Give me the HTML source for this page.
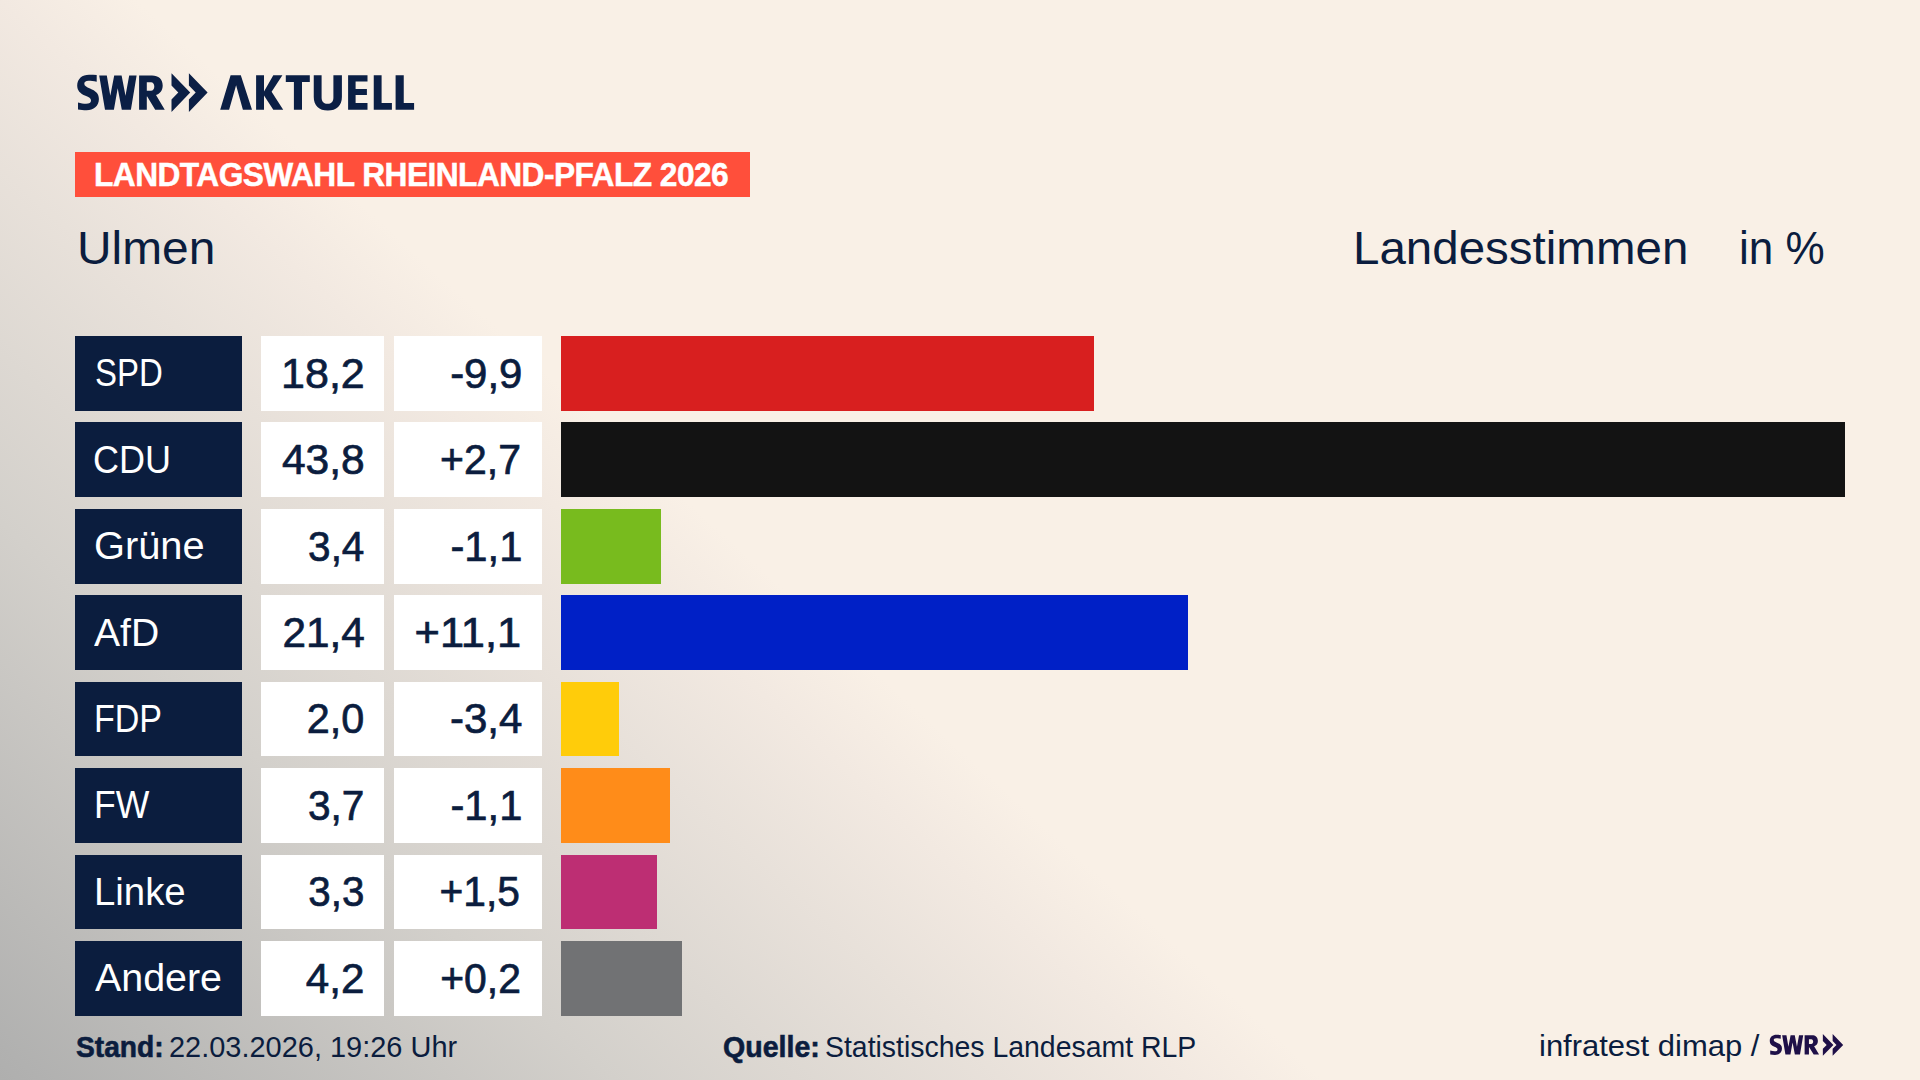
<!DOCTYPE html>
<html><head><meta charset="utf-8"><style>
*{margin:0;padding:0;box-sizing:border-box}
html,body{width:1920px;height:1080px;overflow:hidden}
body{position:relative;font-family:"Liberation Sans",sans-serif;color:#0b1d3e;background:#f9f0e6}
.bg{position:absolute;left:0;top:0;width:1920px;height:1080px}
.a{position:absolute;white-space:nowrap;line-height:1}
.box{position:absolute}
.t{position:absolute;white-space:nowrap;line-height:1;transform-origin:0 0}
.tr{position:absolute;white-space:nowrap;line-height:1;transform-origin:100% 0;text-align:right}
</style></head><body>
<div class="bg" id="bg" style="background:linear-gradient(222.3deg,#f9f0e6 0px,#f9f0e6 1200px,#f2e9e1 1292px,#d3d0cb 1678px,#b1b1b0 2063px,#afafae 2091px)"></div>
<svg style="position:absolute;left:0;top:0" width="1920" height="1080" viewBox="0 0 1920 1080">
<defs>
<g id="swr">
<path d="M96.7 75L96.7 81.7C93.5 81 91 80.7 88.5 80.7C85.5 80.7 84.3 82 84.3 83.8C84.3 86 86.5 87 90 88.5C95.5 90.8 98.9 93.5 98.9 99C98.9 106 93.5 110.3 86.5 110.3C83.5 110.3 80.5 109.9 78 109.5L78 102.5C80.8 103.3 83.5 103.8 86 103.8C89.3 103.8 91 102.7 91 100.5C91 98.3 89 97.3 85.5 95.8C80 93.5 77.2 90.5 77.2 85.5C77.2 78.7 82.3 74.7 89 74.7C91.8 74.7 94.5 74.9 96.7 75Z"/>
<path d="M99.2 75.4L106.8 75.4L110.3 95.7L114.2 75.4L121.6 75.4L125.5 95.7L129.2 75.4L136.6 75.4L130.9 109.8L121.8 109.8L117.7 88.3L113.9 109.8L105 109.8Z"/>
<path fill-rule="evenodd" d="M139.1 75.4H152C158.5 75.4 162.7 79 162.7 85.5C162.7 90.5 159.8 93.8 156 95L164.75 109.8H155.2L147.2 96.5H146.8V109.8H139.1ZM146.8 82.3V90.8H151C153 90.8 154.3 89 154.3 86.5C154.3 84 153 82.3 151 82.3Z"/>
<path d="M171.5 73.2L190.2 92.6L171.5 111.9L171.5 99.5L178.3 92.6L171.5 85.6Z"/>
<path d="M188.9 73.2L207.6 92.6L188.9 111.9L188.9 99.5L195.7 92.6L188.9 85.6Z"/>
</g>
</defs>
<g fill="#0b1f45">
<use href="#swr"/>
<path d="M220.2 109.8L230.6 75.2L240.8 75.2L252 109.8L242.9 109.8L236.1 85.3L229.1 109.8Z"/>
<path d="M256.1 75.2H264V91.5L273.3 75.2H282.4L271.6 91.8L283.2 109.8H273.3L264 95.5V109.8H256.1Z"/>
<path d="M285.8 75.2H309.8V81.9H302V109.8H293.9V81.9H285.8Z"/>
<path d="M313.75 75.2H321.6V97.5C321.6 101.5 323.7 103.8 327.6 103.8C331.4 103.8 333.4 101.5 333.4 97.5V75.2H341.9V97C341.9 105.5 336.5 110.6 327.8 110.6C319.1 110.6 313.75 105.5 313.75 97Z"/>
<path d="M348.1 75.2H367.5V81.6H355.6V89H366.9V95H355.6V103.1H367.5V109.8H348.1Z"/>
<path d="M373.75 75.2H381.6V103.1H391.9V109.8H373.75Z"/>
<path d="M395.6 75.2H403.75V103.1H414.1V109.8H395.6Z"/>
</g>
<use href="#swr" fill="#1f1048" transform="translate(1726.3 992.8) scale(0.563)"/>
</svg>

<div class="box" style="left:75px;top:152.3px;width:675px;height:44.6px;background:#ff4f3b"></div>
<div class="t" id="label" style="font-size:34.00px;top:157.02px;font-weight:bold;color:#fff;left:93.73px;transform:scaleX(0.9329);letter-spacing:-0.6px;-webkit-text-stroke:0.5px #fff;">LANDTAGSWAHL RHEINLAND-PFALZ 2026</div>
<div class="t" id="ulmen" style="font-size:46.00px;top:224.76px;left:76.67px;transform:scaleX(1.0410);">Ulmen</div>
<div class="t" id="landes" style="font-size:46.00px;top:224.96px;left:1353.38px;transform:scaleX(1.0326);">Landesstimmen</div>
<div class="t" id="inpct" style="font-size:46.00px;top:224.96px;left:1738.63px;transform:scaleX(0.9579);">in %</div>
<div class="box" style="left:75px;top:336.00px;width:167px;height:74.70px;background:#0b1d3e"></div>
<div class="box" style="left:261px;top:336.00px;width:123px;height:74.70px;background:#fff"></div>
<div class="box" style="left:394px;top:336.00px;width:148px;height:74.70px;background:#fff"></div>
<div class="box" style="left:561px;top:336.00px;width:532.90px;height:74.70px;background:#d81f1f"></div>
<div class="t" id="n0" style="font-size:38.50px;top:354.21px;color:#fff;left:94.91px;transform:scaleX(0.8569);">SPD</div>
<div class="tr" id="v0" style="font-size:42.00px;top:352.75px;right:1555.56px;transform:scaleX(1.0230);-webkit-text-stroke:0.7px #0b1d3e;">18,2</div>
<div class="tr" id="d0" style="font-size:42.00px;top:352.75px;right:1397.68px;transform:scaleX(0.9978);-webkit-text-stroke:0.7px #0b1d3e;">-9,9</div>
<div class="box" style="left:75px;top:422.43px;width:167px;height:74.70px;background:#0b1d3e"></div>
<div class="box" style="left:261px;top:422.43px;width:123px;height:74.70px;background:#fff"></div>
<div class="box" style="left:394px;top:422.43px;width:148px;height:74.70px;background:#fff"></div>
<div class="box" style="left:561px;top:422.43px;width:1283.80px;height:74.70px;background:#131313"></div>
<div class="t" id="n1" style="font-size:38.50px;top:440.64px;color:#fff;left:93.20px;transform:scaleX(0.9357);">CDU</div>
<div class="tr" id="v1" style="font-size:42.00px;top:439.18px;right:1555.38px;transform:scaleX(1.0128);-webkit-text-stroke:0.7px #0b1d3e;">43,8</div>
<div class="tr" id="d1" style="font-size:42.00px;top:439.18px;right:1399.44px;transform:scaleX(0.9754);-webkit-text-stroke:0.7px #0b1d3e;">+2,7</div>
<div class="box" style="left:75px;top:508.86px;width:167px;height:74.70px;background:#0b1d3e"></div>
<div class="box" style="left:261px;top:508.86px;width:123px;height:74.70px;background:#fff"></div>
<div class="box" style="left:394px;top:508.86px;width:148px;height:74.70px;background:#fff"></div>
<div class="box" style="left:561px;top:508.86px;width:99.90px;height:74.70px;background:#78bb1e"></div>
<div class="t" id="n2" style="font-size:38.50px;top:527.07px;color:#fff;left:94.25px;transform:scaleX(1.0338);">Grüne</div>
<div class="tr" id="v2" style="font-size:42.00px;top:525.61px;right:1555.61px;transform:scaleX(0.9638);-webkit-text-stroke:0.7px #0b1d3e;">3,4</div>
<div class="tr" id="d2" style="font-size:42.00px;top:525.61px;right:1397.97px;transform:scaleX(0.9935);-webkit-text-stroke:0.7px #0b1d3e;">-1,1</div>
<div class="box" style="left:75px;top:595.29px;width:167px;height:74.70px;background:#0b1d3e"></div>
<div class="box" style="left:261px;top:595.29px;width:123px;height:74.70px;background:#fff"></div>
<div class="box" style="left:394px;top:595.29px;width:148px;height:74.70px;background:#fff"></div>
<div class="box" style="left:561px;top:595.29px;width:627.00px;height:74.70px;background:#0020c6"></div>
<div class="t" id="n3" style="font-size:38.50px;top:613.50px;color:#fff;left:94.23px;transform:scaleX(1.0158);">AfD</div>
<div class="tr" id="v3" style="font-size:42.00px;top:612.04px;right:1555.60px;transform:scaleX(1.0065);-webkit-text-stroke:0.7px #0b1d3e;">21,4</div>
<div class="tr" id="d3" style="font-size:42.00px;top:612.04px;right:1398.93px;transform:scaleX(1.0330);-webkit-text-stroke:0.7px #0b1d3e;">+11,1</div>
<div class="box" style="left:75px;top:681.72px;width:167px;height:74.70px;background:#0b1d3e"></div>
<div class="box" style="left:261px;top:681.72px;width:123px;height:74.70px;background:#fff"></div>
<div class="box" style="left:394px;top:681.72px;width:148px;height:74.70px;background:#fff"></div>
<div class="box" style="left:561px;top:681.72px;width:57.90px;height:74.70px;background:#ffcc0a"></div>
<div class="t" id="n4" style="font-size:38.50px;top:699.93px;color:#fff;left:93.80px;transform:scaleX(0.8837);">FDP</div>
<div class="tr" id="v4" style="font-size:42.00px;top:698.47px;right:1555.34px;transform:scaleX(0.9854);-webkit-text-stroke:0.7px #0b1d3e;">2,0</div>
<div class="tr" id="d4" style="font-size:42.00px;top:698.47px;right:1397.48px;transform:scaleX(1.0004);-webkit-text-stroke:0.7px #0b1d3e;">-3,4</div>
<div class="box" style="left:75px;top:768.15px;width:167px;height:74.70px;background:#0b1d3e"></div>
<div class="box" style="left:261px;top:768.15px;width:123px;height:74.70px;background:#fff"></div>
<div class="box" style="left:394px;top:768.15px;width:148px;height:74.70px;background:#fff"></div>
<div class="box" style="left:561px;top:768.15px;width:108.70px;height:74.70px;background:#ff8c19"></div>
<div class="t" id="n5" style="font-size:38.50px;top:786.36px;color:#fff;left:93.70px;transform:scaleX(0.9241);">FW</div>
<div class="tr" id="v5" style="font-size:42.00px;top:784.90px;right:1555.45px;transform:scaleX(0.9662);-webkit-text-stroke:0.7px #0b1d3e;">3,7</div>
<div class="tr" id="d5" style="font-size:42.00px;top:784.90px;right:1397.97px;transform:scaleX(0.9935);-webkit-text-stroke:0.7px #0b1d3e;">-1,1</div>
<div class="box" style="left:75px;top:854.58px;width:167px;height:74.70px;background:#0b1d3e"></div>
<div class="box" style="left:261px;top:854.58px;width:123px;height:74.70px;background:#fff"></div>
<div class="box" style="left:394px;top:854.58px;width:148px;height:74.70px;background:#fff"></div>
<div class="box" style="left:561px;top:854.58px;width:96.00px;height:74.70px;background:#bd2e73"></div>
<div class="t" id="n6" style="font-size:38.50px;top:872.79px;color:#fff;left:93.72px;transform:scaleX(0.9956);">Linke</div>
<div class="tr" id="v6" style="font-size:42.00px;top:871.33px;right:1555.84px;transform:scaleX(0.9594);-webkit-text-stroke:0.7px #0b1d3e;">3,3</div>
<div class="tr" id="d6" style="font-size:42.00px;top:871.33px;right:1399.89px;transform:scaleX(0.9695);-webkit-text-stroke:0.7px #0b1d3e;">+1,5</div>
<div class="box" style="left:75px;top:941.01px;width:167px;height:74.70px;background:#0b1d3e"></div>
<div class="box" style="left:261px;top:941.01px;width:123px;height:74.70px;background:#fff"></div>
<div class="box" style="left:394px;top:941.01px;width:148px;height:74.70px;background:#fff"></div>
<div class="box" style="left:561px;top:941.01px;width:120.80px;height:74.70px;background:#717274"></div>
<div class="t" id="n7" style="font-size:38.50px;top:959.22px;color:#fff;left:94.69px;transform:scaleX(1.0230);">Andere</div>
<div class="tr" id="v7" style="font-size:42.00px;top:957.76px;right:1555.61px;transform:scaleX(1.0041);-webkit-text-stroke:0.7px #0b1d3e;">4,2</div>
<div class="tr" id="d7" style="font-size:42.00px;top:957.76px;right:1399.53px;transform:scaleX(0.9738);-webkit-text-stroke:0.7px #0b1d3e;">+0,2</div>
<div class="t" id="standb" style="font-size:29.00px;top:1032.75px;font-weight:bold;left:76.41px;transform:scaleX(0.9716);-webkit-text-stroke:0.6px #0b1d3e;">Stand:</div>
<div class="t" id="standr" style="font-size:29.00px;top:1032.75px;left:169.40px;transform:scaleX(0.9983);">22.03.2026, 19:26 Uhr</div>
<div class="t" id="quelleb" style="font-size:29.00px;top:1032.75px;font-weight:bold;left:723.02px;transform:scaleX(0.9843);-webkit-text-stroke:0.6px #0b1d3e;">Quelle:</div>
<div class="t" id="quelle" style="font-size:29.00px;top:1032.75px;left:825.42px;transform:scaleX(0.9801);">Statistisches Landesamt RLP</div>
<div class="t" id="infra" style="font-size:29.00px;top:1032.15px;left:1538.89px;transform:scaleX(1.0683);">infratest dimap /</div>
<!--SMALLLOGO-->
</body></html>
